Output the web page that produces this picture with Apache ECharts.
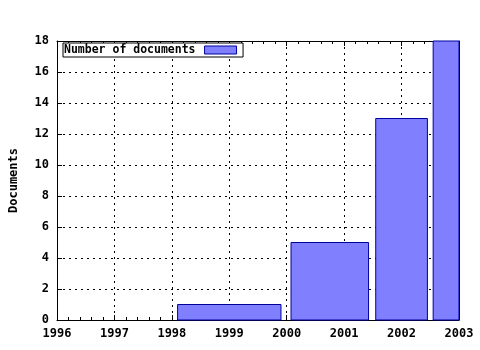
<!DOCTYPE html>
<html><head><meta charset="utf-8">
<script src="https://cdn.jsdelivr.net/npm/echarts@6/dist/echarts.min.js"></script>
<style>html,body{margin:0;padding:0;background:#fff}#c{width:480px;height:350px}</style>
</head><body><div id="c"></div>
<script>
var years = [1999, 2001, 2002, 2003];
var docs = [1, 5, 13, 18];
var seriesName = 'Number of documents';
var yLabel = 'Documents';
var xMin = 1996, xMax = 2003, yMin = 0, yMax = 18;

var FONT = '"DejaVu Sans Mono", monospace';
var chart = echarts.init(document.getElementById('c'), null, {renderer: 'canvas'});
var data = years.map(function (y, i) { return [y, docs[i], i]; });

function renderItem(params, api) {
  var i = api.value(2);
  var x = api.value(0);
  var prev = i > 0 ? years[i - 1] : null;
  var next = i < years.length - 1 ? years[i + 1] : null;
  var lo = prev !== null ? (prev + x) / 2 : x - (next - x) / 2;
  var hi = next !== null ? (x + next) / 2 : x + (x - prev) / 2;
  var c = (lo + hi) / 2, w = (hi - lo) * 0.9;
  var p1 = api.coord([c - w / 2, api.value(1)]);
  var p2 = api.coord([c + w / 2, 0]);
  var rect = echarts.graphic.clipRectByRect(
    {x: p1[0], y: p1[1], width: p2[0] - p1[0], height: p2[1] - p1[1]},
    {x: params.coordSys.x, y: params.coordSys.y - 2, width: params.coordSys.width, height: params.coordSys.height + 2});
  return rect && {type: 'rect', shape: rect, style: {fill: '#8080ff', stroke: '#0000a0', lineWidth: 1}};
}

var axisText = {color: '#000', fontFamily: FONT, fontWeight: 'bold', fontSize: 12};
chart.setOption({
  animation: false,
  backgroundColor: '#fff',
  grid: {left: 57, right: 21, top: 41, bottom: 30, show: false},
  legend: {
    left: 63, top: 43, data: [{name: seriesName, icon: 'rect'}],
    align: 'right', itemWidth: 32, itemHeight: 8, itemGap: 0,
    itemStyle: {borderWidth: 1, borderColor: '#0000a0'},
    borderColor: '#000', borderWidth: 1, padding: [1, 6, 1, 1], backgroundColor: '#fff',
    textStyle: {color: '#000', fontFamily: FONT, fontWeight: 'bold', fontSize: 11.5, padding: [0, 4, 0, 0]},
    formatter: function (n) { return n; }
  },
  xAxis: [{
    type: 'value', min: xMin, max: xMax, interval: 1, position: 'bottom',
    axisLine: {show: true, onZero: false, lineStyle: {color: '#000'}},
    axisTick: {show: true, inside: true, length: 5, lineStyle: {color: '#000'}},
    minorTick: {show: true, splitNumber: 5, length: 3, lineStyle: {color: '#000'}},
    axisLabel: Object.assign({margin: 8, formatter: function (v) { return String(v); }}, axisText),
    splitLine: {show: true, lineStyle: {color: '#000', type: [2, 4], width: 1}}
  }, {
    type: 'value', min: xMin, max: xMax, interval: 1, position: 'top',
    axisLine: {show: true, onZero: false, lineStyle: {color: '#000'}},
    axisTick: {show: true, inside: true, length: 5, lineStyle: {color: '#000'}},
    minorTick: {show: true, splitNumber: 5, length: 3, lineStyle: {color: '#000'}},
    axisLabel: {show: false}, splitLine: {show: false}
  }],
  yAxis: [{
    type: 'value', min: yMin, max: yMax, interval: 2, position: 'left',
    name: yLabel, nameLocation: 'middle', nameGap: 37, nameRotate: 90,
    nameTextStyle: axisText,
    axisLine: {show: true, onZero: false, lineStyle: {color: '#000'}},
    axisTick: {show: true, inside: true, length: 5, lineStyle: {color: '#000'}},
    axisLabel: Object.assign({margin: 8}, axisText),
    splitLine: {show: true, lineStyle: {color: '#000', type: [2, 4], width: 1}}
  }, {
    type: 'value', min: yMin, max: yMax, interval: 2, position: 'right',
    axisLine: {show: true, onZero: false, lineStyle: {color: '#000'}},
    axisTick: {show: true, inside: true, length: 5, lineStyle: {color: '#000'}},
    axisLabel: {show: false}, splitLine: {show: false}
  }],
  series: [{
    name: seriesName, type: 'custom', renderItem: renderItem, data: data,
    encode: {x: 0, y: 1}, clip: false,
    itemStyle: {color: '#8080ff', borderColor: '#0000a0', borderWidth: 1}, z: 5
  }]
});
</script></body></html>
